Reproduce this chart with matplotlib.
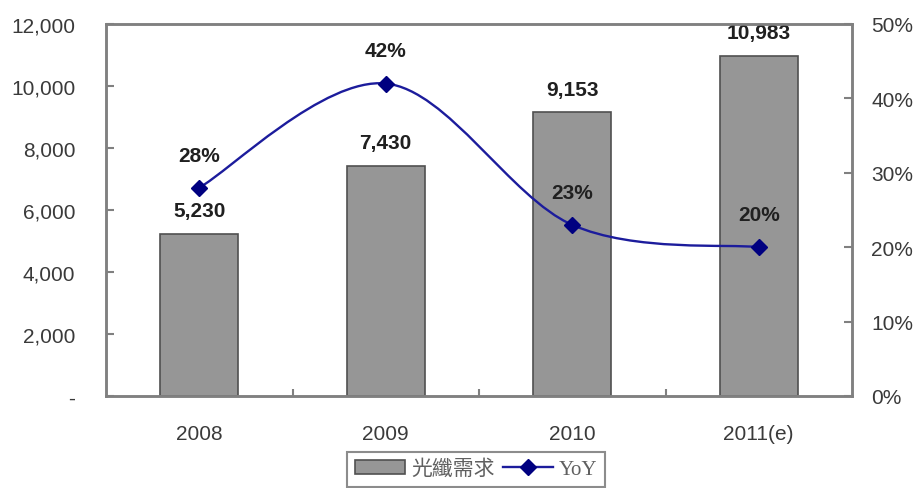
import matplotlib
matplotlib.use("Agg")
import matplotlib.pyplot as plt
from matplotlib.path import Path
from matplotlib.patches import PathPatch, Patch
from matplotlib.lines import Line2D
import numpy as np

categories = ["2008", "2009", "2010", "2011(e)"]
demand = [5230, 7430, 9153, 10983]
yoy = [28, 42, 23, 20]
left_ticks = [0, 2000, 4000, 6000, 8000, 10000, 12000]
left_labels = ["-", "2,000", "4,000", "6,000", "8,000", "10,000", "12,000"]
right_ticks = [0, 10, 20, 30, 40, 50]
right_labels = ["0%", "10%", "20%", "30%", "40%", "50%"]
legend_labels = ["光纖需求", "YoY"]

plt.rcParams['font.family'] = ['Liberation Sans', 'Noto Sans CJK TC']

BAR_COLOR = "#969696"
BAR_EDGE = "#505050"
LINE_COLOR = "#1c1c9c"
MARK_COLOR = "#000080"
SPINE = "#808080"
TXT = "#3a3a3a"

fig = plt.figure(figsize=(9.19, 4.89), dpi=100)
ax = fig.add_axes([106/919, 1-397/489, 746/919, 372/489])
ax2 = ax.twinx()

x = np.arange(len(categories))
ax.bar(x, demand, width=0.42, color=BAR_COLOR, edgecolor=BAR_EDGE, linewidth=1.2, zorder=2)
ax.set_xlim(-0.5, len(categories) - 0.5)
ax.set_ylim(0, 12000)
ax2.set_ylim(0, 50)

# bar value labels
for xi, v in zip(x, demand):
    ax.annotate(f"{v:,}", (xi, v), xytext=(0, 16.5), textcoords="offset points",
                ha="center", va="center", fontsize=15, fontweight="bold", color="#202020")

# smooth line (Catmull-Rom bezier through data points)
pts = np.column_stack([x, yoy]).astype(float)
ext = np.vstack([pts[0], pts, pts[-1]])
verts = [tuple(pts[0])]
codes = [Path.MOVETO]
for i in range(len(pts) - 1):
    p0, p1, p2, p3 = ext[i], ext[i+1], ext[i+2], ext[i+3]
    c1 = p1 + (p2 - p0) / 6.0
    c2 = p2 - (p3 - p1) / 6.0
    verts += [tuple(c1), tuple(c2), tuple(p2)]
    codes += [Path.CURVE4] * 3
ax2.add_patch(PathPatch(Path(verts, codes), facecolor="none", edgecolor=LINE_COLOR,
                        linewidth=1.7, zorder=3))
ax2.plot(x, yoy, linestyle="none", marker="D", markersize=8, color=MARK_COLOR, zorder=4)
for xi, v in zip(x, yoy):
    ax2.annotate(f"{v}%", (xi, v), xytext=(0, 23.5), textcoords="offset points",
                 ha="center", va="center", fontsize=15, fontweight="bold", color="#202020")

# axes styling
for a in (ax, ax2):
    for s in a.spines.values():
        s.set_color(SPINE)
        s.set_linewidth(1.8)

ax.set_yticks(left_ticks)
ax.set_yticklabels(left_labels)
ax.tick_params(axis="y", direction="in", length=6, width=1.5, color=SPINE,
               labelsize=15, labelcolor=TXT, pad=22)
ax2.set_yticks(right_ticks)
ax2.set_yticklabels(right_labels)
ax2.tick_params(axis="y", direction="in", length=6, width=1.5, color=SPINE,
                labelsize=15, labelcolor=TXT, pad=14)

ax.set_xticks(x)
ax.set_xticklabels(categories)
ax.tick_params(axis="x", which="major", length=0, labelsize=15, labelcolor=TXT, pad=20)
ax.set_xticks(x[:-1] + 0.5, minor=True)
ax.tick_params(axis="x", which="minor", direction="in", length=5, width=1.5, color=SPINE)

handles = [Patch(facecolor=BAR_COLOR, edgecolor=BAR_EDGE, linewidth=1.2),
           Line2D([], [], color=LINE_COLOR, linewidth=1.7, marker="D", markersize=8,
                  markerfacecolor=MARK_COLOR, markeredgecolor=MARK_COLOR)]
leg = fig.legend(handles, legend_labels, loc="upper center",
                 bbox_to_anchor=(476/919, 1-443/489), ncol=2, frameon=True, fancybox=False,
                 prop={"family": ["Liberation Serif", "Noto Sans CJK TC"], "size": 15},
                 handlelength=2.4, handletextpad=0.3, columnspacing=0.4,
                 borderpad=0.35, labelcolor="#606060")
leg.get_frame().set_edgecolor("#707070")
leg.get_frame().set_linewidth(1.5)

fig.savefig("out.png", dpi=100)
